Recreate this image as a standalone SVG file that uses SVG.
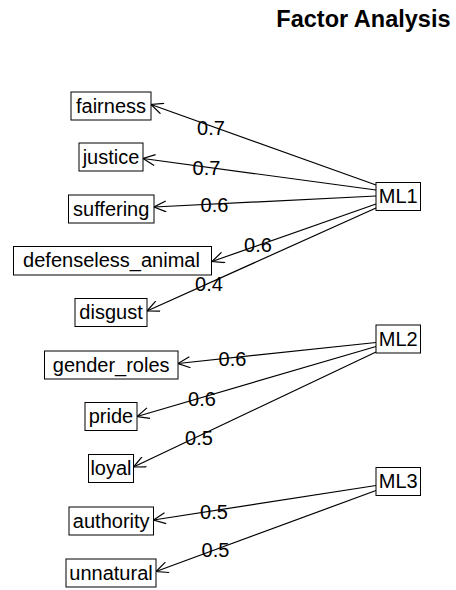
<svg xmlns="http://www.w3.org/2000/svg" width="456" height="590" viewBox="0 0 456 590">
  <style>
    .box { fill: #fff; stroke: #000; stroke-width: 1; }
    .lbl { font-family: "Liberation Sans", Arial, sans-serif; font-size: 20px; fill: #000; text-anchor: middle; }
    .load { font-family: "Liberation Sans", Arial, sans-serif; font-size: 20px; fill: #000; text-anchor: middle; }
    .title { font-family: "Liberation Sans", Arial, sans-serif; font-size: 23.5px; font-weight: bold; fill: #000; text-anchor: end; }
    .edge { stroke: #000; stroke-width: 1.2; fill: none; marker-end: url(#head); }
  </style>
  <defs>
    <marker id="head" viewBox="0 0 14 12" refX="13" refY="6" markerWidth="14" markerHeight="12" markerUnits="userSpaceOnUse" orient="auto">
      <path d="M1,0.5 L13,6 L1,11.5" fill="none" stroke="#000" stroke-width="1.2"/>
    </marker>
  </defs>
  <rect width="456" height="590" fill="#fff"/>

  <text class="title" x="450.5" y="27">Factor Analysis</text>

  <g id="connectors">
    <line class="edge" x1="376" y1="185" x2="151" y2="104.5"/>
    <line class="edge" x1="376" y1="190" x2="143" y2="158.5"/>
    <line class="edge" x1="376" y1="196" x2="154" y2="207"/>
    <line class="edge" x1="376" y1="204" x2="212" y2="261.5"/>
    <line class="edge" x1="376" y1="208" x2="147" y2="311"/>
    <line class="edge" x1="376" y1="342.5" x2="178" y2="363.5"/>
    <line class="edge" x1="376" y1="346.5" x2="137" y2="416.5"/>
    <line class="edge" x1="376" y1="352" x2="133.5" y2="467"/>
    <line class="edge" x1="376" y1="485.5" x2="153.5" y2="520"/>
    <line class="edge" x1="376" y1="490.5" x2="156" y2="571.5"/>
    <g id="loadings">
      <text class="load" x="211" y="135">0.7</text>
      <text class="load" x="206.5" y="174.5">0.7</text>
      <text class="load" x="214.5" y="212">0.6</text>
      <text class="load" x="258" y="251.5">0.6</text>
      <text class="load" x="209" y="290.5">0.4</text>
      <text class="load" x="232.5" y="365.5">0.6</text>
      <text class="load" x="202" y="406">0.6</text>
      <text class="load" x="199" y="445">0.5</text>
      <text class="load" x="214" y="519">0.5</text>
      <text class="load" x="215.5" y="557">0.5</text>
    </g>
  </g>

  <g id="fairness"><rect class="box" x="71" y="92" width="80" height="28"/><text class="lbl" x="111" y="112.5">fairness</text></g>
  <g id="justice"><rect class="box" x="79" y="143" width="64" height="28"/><text class="lbl" x="111" y="163.5">justice</text></g>
  <g id="suffering"><rect class="box" x="68.5" y="195" width="85.5" height="28"/><text class="lbl" x="111.2" y="215.5">suffering</text></g>
  <g id="defenseless_animal"><rect class="box" x="13.5" y="246.5" width="198" height="28.5"/><text class="lbl" x="111.5" y="267">defenseless_animal</text></g>
  <g id="disgust"><rect class="box" x="75" y="298.5" width="72" height="28"/><text class="lbl" x="111" y="319">disgust</text></g>
  <g id="gender_roles"><rect class="box" x="44.5" y="351" width="133.5" height="28"/><text class="lbl" x="111.2" y="371.5">gender_roles</text></g>
  <g id="pride"><rect class="box" x="85" y="402.5" width="52" height="28"/><text class="lbl" x="111" y="423">pride</text></g>
  <g id="loyal"><rect class="box" x="88.5" y="454.5" width="45" height="28"/><text class="lbl" x="111" y="475">loyal</text></g>
  <g id="authority"><rect class="box" x="69" y="507" width="84.5" height="28"/><text class="lbl" x="111.2" y="527.5">authority</text></g>
  <g id="unnatural"><rect class="box" x="66" y="559" width="90" height="28"/><text class="lbl" x="111" y="579.5">unnatural</text></g>

  <g id="ML1"><rect class="box" x="376" y="182.5" width="44.5" height="28"/><text class="lbl" x="398.2" y="203">ML1</text></g>
  <g id="ML2"><rect class="box" x="376" y="325" width="44.5" height="28"/><text class="lbl" x="398.2" y="345.5">ML2</text></g>
  <g id="ML3"><rect class="box" x="376" y="467.5" width="44.5" height="28"/><text class="lbl" x="398.2" y="488">ML3</text></g>
</svg>
